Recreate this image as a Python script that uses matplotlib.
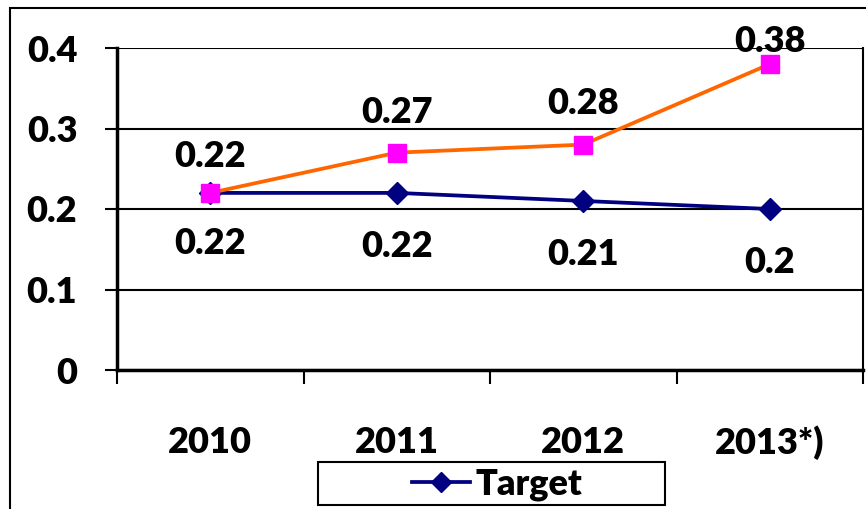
import matplotlib.pyplot as plt
from matplotlib.patches import Rectangle
from matplotlib.lines import Line2D

years = ['2010', '2011', '2012', '2013*)']
actual = [0.22, 0.27, 0.28, 0.38]
target = [0.22, 0.22, 0.21, 0.2]
yticks = [0, 0.1, 0.2, 0.3, 0.4]

# label offsets (points) as placed in the original chart
actual_off = [18.7, 21.6, 22.3, 8.6]
target_off = [24.5, 26.6, 26.6, 26.6]

plt.rcParams['font.family'] = ['Lato', 'DejaVu Sans']
W = 'heavy'
FS = 26

fig = plt.figure(figsize=(8.66, 5.09), dpi=100)
ax = fig.add_axes([117 / 866, 1 - 370 / 509, (863 - 117) / 866, (370 - 48) / 509])

x = list(range(len(years)))
ax.plot(x, target, color='#000080', lw=2.7, marker='D', ms=11, mfc='#000080', mec='#000080', zorder=3)
ax.plot(x, actual, color='#FF6600', lw=2.7, marker='s', ms=12.5, mfc='#FF00FF', mec='#FF00FF', zorder=4)

for i in x:
    ax.annotate(f'{actual[i]:g}', (i, actual[i]), xytext=(0, actual_off[i]), textcoords='offset points',
                ha='center', va='baseline', fontsize=FS, fontweight=W, annotation_clip=False)
    ax.annotate(f'{target[i]:g}', (i, target[i]), xytext=(0, -target_off[i]), textcoords='offset points',
                ha='center', va='top', fontsize=FS, fontweight=W)

ax.set_xlim(-0.5, len(years) - 0.5)
ax.set_ylim(0, 0.4)
ax.set_yticks(yticks)
ax.set_yticklabels([f'{v:g}' for v in yticks], fontsize=FS, fontweight=W)
ax.yaxis.grid(True, color='black', lw=1.5)
ax.set_axisbelow(True)
ax.tick_params(axis='y', direction='out', length=8.6, width=1.5, pad=20)

ax.set_xticks(x)
ax.set_xticklabels(years, fontsize=FS, fontweight=W)
ax.set_xticks([i - 0.5 for i in range(len(years) + 1)], minor=True)
ax.tick_params(axis='x', which='major', length=0, pad=40)
ax.tick_params(axis='x', which='minor', direction='out', length=10, width=1.5)

for side in ['left', 'bottom']:
    ax.spines[side].set_linewidth(2.5)
ax.spines['right'].set_linewidth(1.5)
ax.spines['top'].set_visible(False)

# outer chart border (partly cut off in the original)
fig.patches.append(Rectangle((10 / 866, -0.2), 1.2, 1.2 - 8 / 509, transform=fig.transFigure,
                             fill=False, ec='black', lw=1.5))

# legend box
fig.patches.append(Rectangle((318 / 866, 1 - 505 / 509), (665 - 318) / 866, (505 - 462) / 509,
                             transform=fig.transFigure, fill=False, ec='black', lw=1.5))
h = Line2D([], [], color='#000080', lw=2.7, marker='D', ms=10)
fig.legend([h], ['Target'], loc='center', bbox_to_anchor=(497 / 866, 1 - 484 / 509),
           frameon=False, prop={'weight': W, 'size': FS},
           handlelength=1.6, handletextpad=0.15)

fig.savefig('out.png', dpi=100)
